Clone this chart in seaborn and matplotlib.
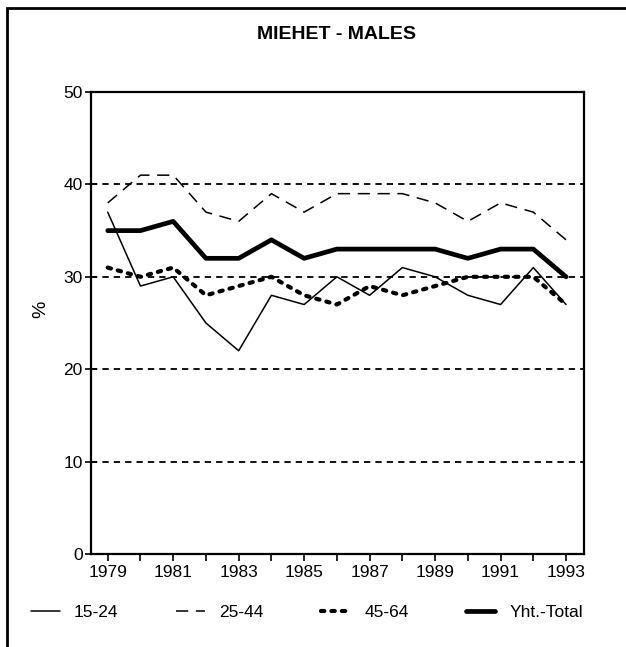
import matplotlib
matplotlib.use("Agg")
import matplotlib.pyplot as plt
import matplotlib.patches as patches
import seaborn as sns

years = list(range(1979, 1994))
m15_24 = [37, 29, 30, 25, 22, 28, 27, 30, 28, 31, 30, 28, 27, 31, 27]
m25_44 = [38, 41, 41, 37, 36, 39, 37, 39, 39, 39, 38, 36, 38, 37, 34]
m45_64 = [31, 30, 31, 28, 29, 30, 28, 27, 29, 28, 29, 30, 30, 30, 27]
total = [35, 35, 36, 32, 32, 34, 32, 33, 33, 33, 33, 32, 33, 33, 30]
labels = ["15-24", "25-44", "45-64", "Yht.-Total"]
title = "MIEHET - MALES"

sns.set_style("white")
plt.rcParams["font.family"] = ["Liberation Sans", "DejaVu Sans"]
plt.rcParams["text.color"] = "black"
plt.rcParams["axes.labelcolor"] = "black"

fig = plt.figure(figsize=(6.26, 6.47), dpi=100)
ax = fig.add_axes([0.1454, 0.1437, 0.7876, 0.7141])

# horizontal dashed grid
for g in [10, 20, 30, 40]:
    ax.axhline(g, color="black", lw=1.3, linestyle=(0, (3.5, 2.8)), zorder=1)

styles = [
    dict(lw=1.1, linestyle="-"),
    dict(lw=1.1, linestyle=(0, (8, 5))),
    dict(lw=3.0, linestyle=(0, (0.8, 1.7)), dash_capstyle="round"),
    dict(lw=3.4, linestyle="-"),
]
for vals, lab, st in zip([m15_24, m25_44, m45_64, total], labels, styles):
    sns.lineplot(x=years, y=vals, ax=ax, color="black", label=lab, zorder=3, **st)

ax.set_xlim(1978.49, 1993.55)
ax.set_ylim(0, 50)
ax.set_xticks(years)
ax.set_xticklabels([str(y) if y % 2 == 1 else "" for y in years])
ax.set_yticks([0, 10, 20, 30, 40, 50])
ax.tick_params(axis="x", direction="out", length=5, width=1.2, pad=3, labelsize=12.5, colors="black")
ax.tick_params(axis="y", direction="inout", length=8, width=1.2, pad=2, labelsize=12.5, colors="black")
ax.tick_params(bottom=True, left=True)
for sp in ax.spines.values():
    sp.set_visible(True)
    sp.set_color("black")
    sp.set_linewidth(1.6)

ax.set_xlabel("")
ax.set_ylabel("%", fontsize=14)
ax.yaxis.set_label_coords(-0.085, 0.53)

handles, labs = ax.get_legend_handles_labels()
ax.get_legend().remove()
fig.legend(handles, labs, loc="center", bbox_to_anchor=(0.49, 0.054), ncol=4,
           frameon=False, fontsize=12.5, handlelength=1.7, handletextpad=0.8,
           columnspacing=3.3)

fig.text(0.538, 0.946, title, ha="center", va="center", fontsize=14, fontweight="bold")

# outer frame around the figure
fig.patches.append(patches.Rectangle((0.011, -0.05), 1.2, 0.9876 + 0.05,
                                     transform=fig.transFigure, fill=False,
                                     edgecolor="black", lw=2.0, clip_on=False))

fig.savefig("out.png", dpi=100)
